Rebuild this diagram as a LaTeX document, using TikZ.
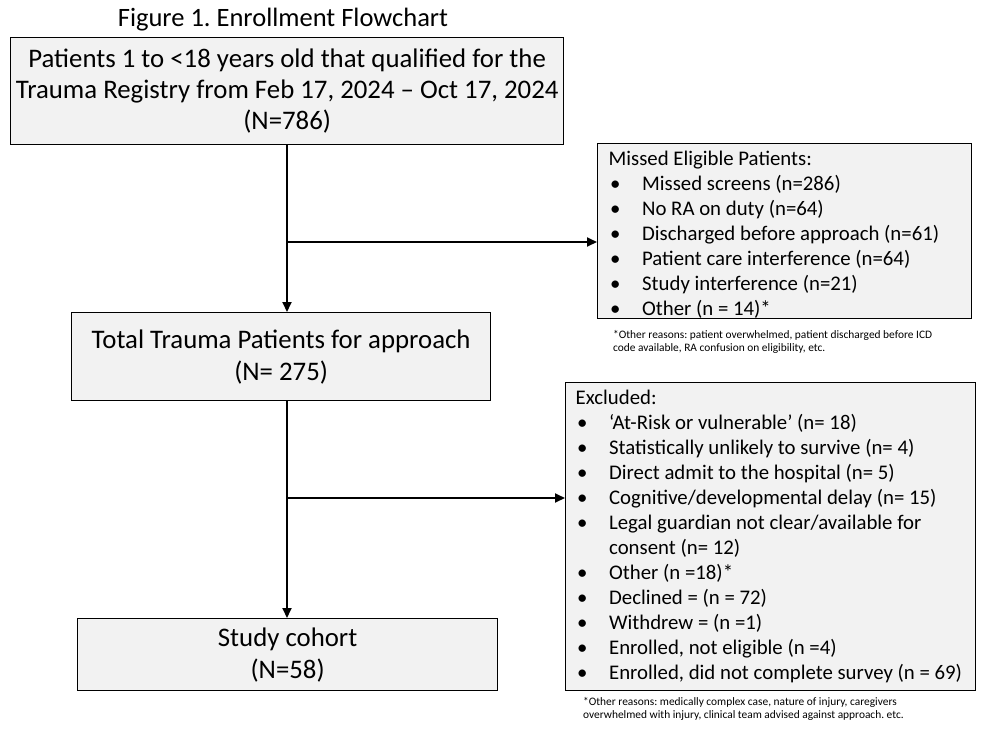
\documentclass[tikz,border=0pt]{standalone}
\usepackage{fontspec}
\setmainfont{Carlito}
\usetikzlibrary{arrows.meta}
\definecolor{boxfill}{HTML}{F2F2F2}
\frenchspacing
\tikzset{
  box/.style={draw=black, line width=1.3pt, fill=boxfill, anchor=north west, inner sep=0pt},
  arr/.style={line width=1.8pt, -{Triangle[length=10pt,width=9pt]}},
  bigtxt/.style={font=\fontsize{26.8}{32}\selectfont, align=center},
  listtxt/.style={font=\fontsize{20.8}{25}\selectfont, align=flush left},
  foot/.style={font=\fontsize{11.4}{13.5}\selectfont, align=left, anchor=north west, inner sep=0pt}
}
\newcommand{\bul}{\makebox[33.5pt][l]{\hspace{1.5pt}•}}
\begin{document}
\begin{tikzpicture}[x=1pt,y=-1pt]
\useasboundingbox[fill=white] (0,0) rectangle (994,732);
\node[font=\fontsize{26.5}{30}\selectfont] (title) at (283,20) {Figure 1. Enrollment Flowchart};
\node[box, font=\fontsize{26.8}{31}\selectfont, align=center, minimum width=553pt, minimum height=107pt] (b1) at (10,37)
  {Patients 1 to <18 years old that qualified for the\\Trauma Registry from Feb 17, 2024 – Oct 17, 2024\\(N=786)};
\node[box, listtxt, minimum width=374pt, minimum height=175pt, text width=352pt, inner xsep=11pt] (b2) at (597,143)
  {\rule{0pt}{22pt}Missed Eligible Patients:\\
   \bul Missed screens (n=286)\\
   \bul No RA on duty (n=64)\\
   \bul Discharged before approach (n=61)\\
   \bul Patient care interference (n=64)\\
   \bul Study interference (n=21)\\
   \bul Other (n = 14)*};
\node[foot] (f1) at (613,330) {*Other reasons: patient overwhelmed, patient discharged before ICD\\code available, RA confusion on eligibility, etc.};
\node[box, bigtxt, minimum width=419pt, minimum height=88pt] (b3) at (71,312)
  {Total Trauma Patients for approach\\(N= 275)};
\node[box, listtxt, minimum width=410pt, minimum height=308pt, text width=394pt, inner xsep=8pt] (b4) at (565,382)
  {\hspace*{2pt}Excluded:\\
   \hspace*{2pt}\bul ‘At-Risk or vulnerable’ (n= 18)\\
   \hspace*{2pt}\bul Statistically unlikely to survive (n= 4)\\
   \hspace*{2pt}\bul Direct admit to the hospital (n= 5)\\
   \hspace*{2pt}\bul Cognitive/developmental delay (n= 15)\\
   \hspace*{2pt}\bul Legal guardian not clear/available for\\
   \hspace*{35.5pt}consent (n= 12)\\
   \hspace*{2pt}\bul Other (n =18)*\\
   \hspace*{2pt}\bul Declined = (n = 72)\\
   \hspace*{2pt}\bul Withdrew = (n =1)\\
   \hspace*{2pt}\bul Enrolled, not eligible (n =4)\\
   \hspace*{2pt}\bul Enrolled, did not complete survey (n = 69)};
\node[foot] (f2) at (583,697) {*Other reasons: medically complex case, nature of injury, caregivers\\overwhelmed with injury, clinical team advised against approach. etc.};
\node[box, bigtxt, minimum width=420pt, minimum height=72pt] (b5) at (77,618)
  {Study cohort\\(N=58)};
\coordinate (j1) at (287,242);
\coordinate (j2) at (287,498);
\draw[arr] (b1.south -| j1) -- (b3.north -| j1);
\draw[arr] (j1) -- (j1 -| b2.west);
\draw[arr] (b3.south -| j2) -- (b5.north -| j2);
\draw[arr] (j2) -- (j2 -| b4.west);
\end{tikzpicture}
\end{document}
